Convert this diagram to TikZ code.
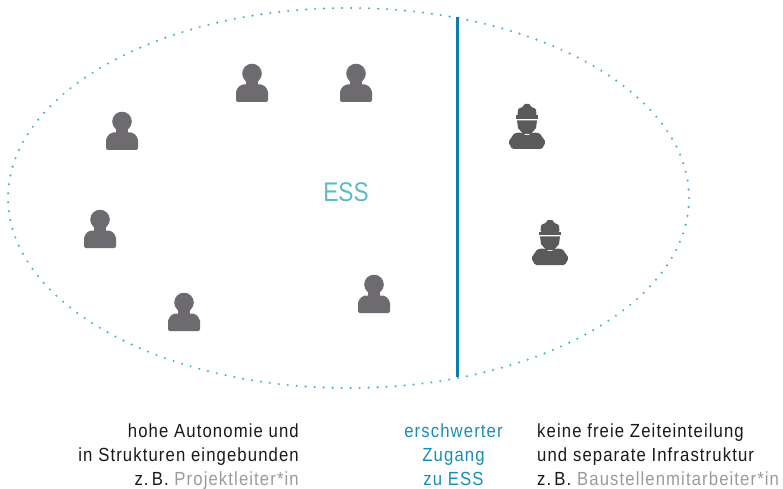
\documentclass[tikz,border=0pt]{standalone}
\usepackage{fontspec}
\setmainfont[FakeStretch=0.88,LetterSpace=5.8]{Liberation Sans}
\newfontfamily\essfont[FakeStretch=0.84]{Liberation Sans}
\definecolor{dotteal}{HTML}{4FB4C0}
\definecolor{essteal}{HTML}{5DBAC6}
\definecolor{barblue}{HTML}{0A7FAB}
\definecolor{capblue}{HTML}{1A8CB5}
\definecolor{persongray}{HTML}{6D6A70}
\definecolor{workergray}{HTML}{5A5A5C}
\definecolor{notegray}{HTML}{9A9A9A}
\tikzset{
  caption/.style={font=\fontsize{19}{23.8}\selectfont, inner sep=0pt, text=black!90},
  person/.pic={
    \fill[persongray] (0,-28.5) circle (9.8);
    \fill[persongray] (-6,-24) rectangle (6,-16);
    \fill[persongray, rounded corners=2] (-16,0) -- (-16,-12) -- (-11,-17.5) -- (11,-17.5)
      -- (16,-12) -- (16,0) -- cycle;
  },
  worker/.pic={
    \fill[workergray, rounded corners=1] (-9.5,-33) -- (-9,-40) -- (-3.5,-42.5) -- (-3,-45) -- (3,-45) -- (3.5,-42.5)
      -- (9,-40) -- (9.5,-33) -- cycle;
    \fill[workergray] (-10.7,-33.5) rectangle (10.7,-30.4);
    \fill[workergray] (-10,-28.6) -- (10,-28.6) -- (9,-21) -- (4,-15) -- (-4,-15) -- (-9,-21) -- cycle;
    \fill[workergray, rounded corners=1.5] (-15,0) -- (-18.7,-7) -- (-12.5,-16) -- (-6,-16.5) -- (0,-13) -- (6,-16.5)
      -- (12.5,-16) -- (18.7,-7) -- (15,0) -- cycle;
  }
}
\begin{document}
\begin{tikzpicture}[x=1pt,y=-1pt]
      \useasboundingbox (0,0) rectangle (783,489);
      \draw[dotteal, line width=2.4pt, line cap=round, dash pattern=on 0pt off 9pt]
        (348.5,198) ellipse (340.5 and 190);
      \node[text=essteal, font=\essfont\fontsize{27}{30}\selectfont, inner sep=0pt] (ess) at (346,192) {ESS};
      \coordinate (bartop) at (457.5,17);
      \coordinate (barbottom) at (457.5,377);
      \draw[barblue, line width=3pt] (bartop) -- (barbottom);
      \pic at (252,102) {person};
      \pic at (356,102) {person};
      \pic at (122,150) {person};
      \pic at (100,248) {person};
      \pic at (184,331) {person};
      \pic at (374,313) {person};
      \pic at (527,149) {worker};
      \pic at (550,265) {worker};
      \node[caption, align=right, anchor=north east] (autonomy) at (299,423.5)
        {hohe Autonomie und\\in Strukturen eingebunden\\z.\,B. \textcolor{notegray}{Projektleiter*in}};
      \node[caption, align=center, anchor=north, text=capblue] (access) at (453.5,423.5)
        {erschwerter\\Zugang\\zu ESS};
      \node[caption, align=left, anchor=north west] (schedule) at (537,423.5)
        {keine freie Zeiteinteilung\\und separate Infrastruktur\\z.\,B. \textcolor{notegray}{Baustellenmitarbeiter*in}};
\end{tikzpicture}
\end{document}
